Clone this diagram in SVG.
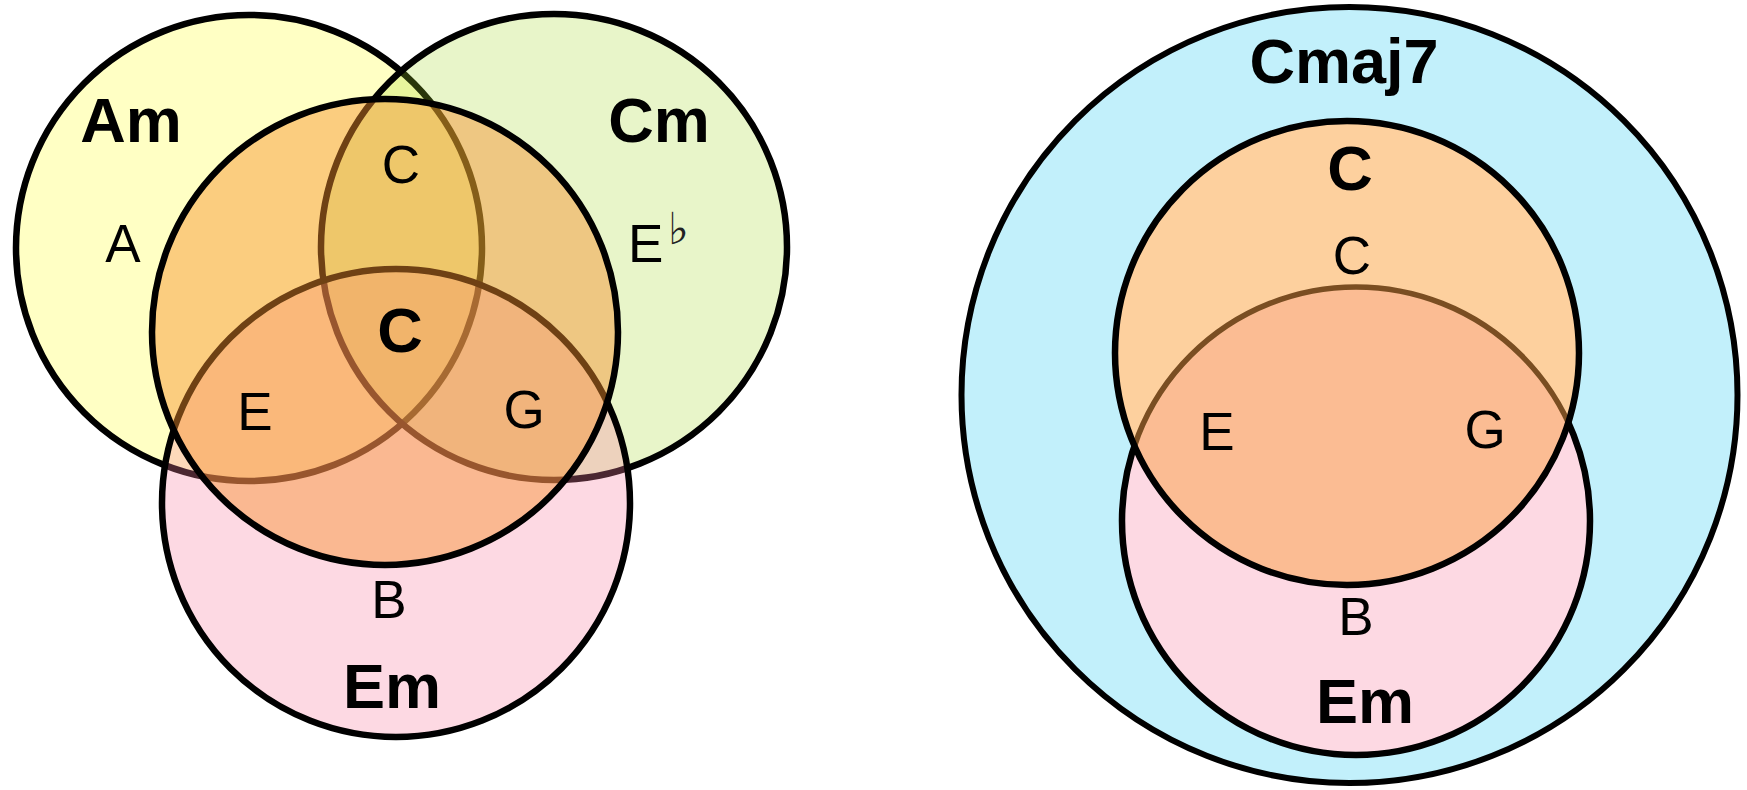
<svg xmlns="http://www.w3.org/2000/svg" width="1747" height="790" viewBox="0 0 1747 790">
  <style>
    .ring { stroke: #000; stroke-width: 6.5; }
    .lbl { font-family: "Liberation Sans", Arial, sans-serif; font-size: 63px; font-weight: bold; fill: #000; text-anchor: middle; }
    .note { font-family: "Liberation Sans", Arial, sans-serif; font-size: 53px; fill: #000; text-anchor: middle; }
    .flat { font-family: "DejaVu Sans", sans-serif; font-size: 44px; fill: #222; }
  </style>
  <defs>
    <clipPath id="clipCR">
      <circle cx="1347" cy="353" r="232"/>
    </clipPath>
  </defs>
  <rect width="1747" height="790" fill="#fff"/>

  <!-- Left: three minor triads with the C major triad laid over them -->
  <g id="am">
    <circle class="ring" cx="249" cy="248" r="233" fill="#FFFFC4"/>
  </g>
  <g id="cm">
    <circle class="ring" cx="554" cy="247" r="233" fill="#A3D727" fill-opacity="0.25"/>
  </g>
  <g id="em">
    <circle class="ring" cx="396" cy="503" r="234" fill="#F880A2" fill-opacity="0.3"/>
  </g>
  <g id="c-major">
    <circle class="ring" cx="385" cy="332" r="233" fill="#F7902D" fill-opacity="0.45"/>
  </g>
  <g id="left-labels">
    <text class="lbl" x="131" y="142">Am</text>
    <text class="lbl" x="659" y="142">Cm</text>
    <text class="lbl" x="392" y="708">Em</text>
    <text class="lbl" x="400" y="352">C</text>
    <text class="note" x="123" y="262">A</text>
    <text class="note" x="401" y="183">C</text>
    <text class="note" x="628" y="262" style="text-anchor:start">E</text>
    <text class="flat" x="668" y="244">♭</text>
    <text class="note" x="255" y="430">E</text>
    <text class="note" x="524" y="428">G</text>
    <text class="note" x="389" y="618">B</text>
  </g>

  <!-- Right: C major and E minor inside Cmaj7 -->
  <g id="cmaj7">
    <circle cx="1349.5" cy="395" r="388" fill="#C2F0FB" stroke="#000" stroke-width="6"/>
  </g>
  <g id="em-right">
    <circle class="ring" cx="1356" cy="521" r="234" fill="#FDD9E3"/>
  </g>
  <g id="c-right">
    <circle cx="1347" cy="353" r="232" fill="#FDD09E"/>
    <circle cx="1356" cy="521" r="234" fill="#FBBC93" stroke="#7A4E22" stroke-width="5.5" clip-path="url(#clipCR)"/>
    <circle class="ring" cx="1347" cy="353" r="232" fill="none"/>
  </g>
  <g id="right-labels">
    <text class="lbl" x="1344" y="83">Cmaj7</text>
    <text class="lbl" x="1350" y="190">C</text>
    <text class="lbl" x="1365" y="723">Em</text>
    <text class="note" x="1352" y="274">C</text>
    <text class="note" x="1217" y="450">E</text>
    <text class="note" x="1485" y="448">G</text>
    <text class="note" x="1356" y="635">B</text>
  </g>
</svg>
